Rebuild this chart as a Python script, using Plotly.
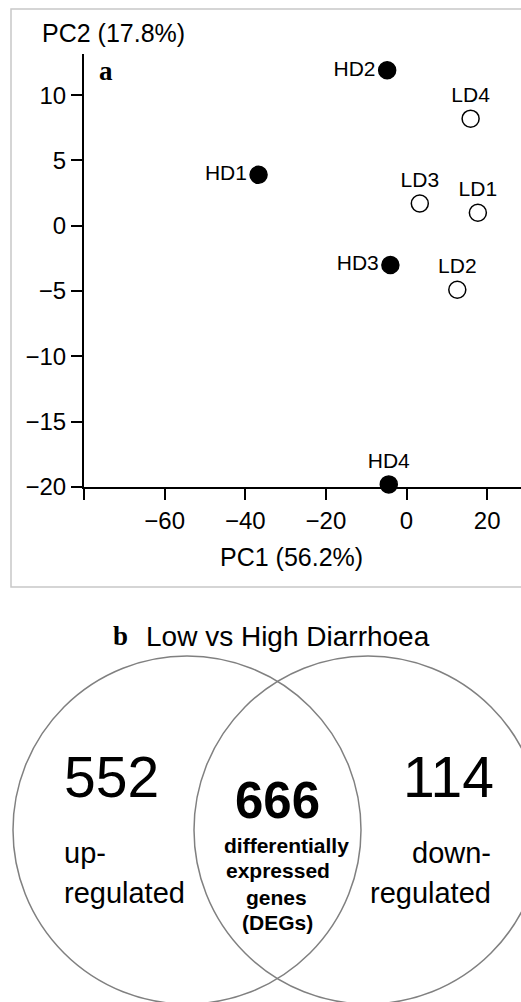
import plotly.graph_objects as go

W, H = 521, 1002

# ---------------- data ----------------
samples = ["HD1", "HD2", "HD3", "HD4", "LD1", "LD2", "LD3", "LD4"]
pc1 = [-36.7, -4.8, -4.0, -4.4, 17.7, 12.6, 3.3, 15.9]
pc2 = [3.9, 11.9, -3.0, -19.8, 1.0, -4.9, 1.7, 8.2]
group = ["HD", "HD", "HD", "HD", "LD", "LD", "LD", "LD"]
label_pos = ["middle left", "middle left", "middle left", "top center",
             "top center", "top center", "top center", "top center"]

x_ticks = [-80, -60, -40, -20, 0, 20]
x_ticktext = ["", "\u221260", "\u221240", "\u221220", "0", "20"]
y_ticks = [-20, -15, -10, -5, 0, 5, 10]

venn_counts = {"up": 552, "total": 666, "down": 114}

SANS = "Liberation Sans, Arial, sans-serif"
SERIF = "Liberation Serif, Times New Roman, serif"


def px(x):
    return x / W


def py(y):
    return 1 - y / H


fig = go.Figure()

for g, fill in [("HD", "black"), ("LD", "white")]:
    idx = [i for i, gg in enumerate(group) if gg == g]
    fig.add_trace(go.Scatter(
        x=[pc1[i] for i in idx], y=[pc2[i] for i in idx],
        text=[samples[i] for i in idx],
        textposition=[label_pos[i] for i in idx],
        mode="markers+text",
        marker=dict(size=17, color=fill, line=dict(color="black", width=1.5)),
        textfont=dict(family=SANS, size=21, color="black"),
        cliponaxis=False, showlegend=False, hoverinfo="skip",
        xaxis="x", yaxis="y",
    ))

# invisible trace for pixel-space axes (venn)
fig.add_trace(go.Scatter(x=[0], y=[0], mode="markers", marker=dict(opacity=0),
                         xaxis="x2", yaxis="y2", showlegend=False, hoverinfo="skip"))

axis_common = dict(showline=True, linecolor="black", linewidth=2, ticks="outside",
                   ticklen=11, tickwidth=2, tickcolor="black", showgrid=False,
                   zeroline=False, automargin=False,
                   tickfont=dict(family=SANS, size=24, color="black"))

fig.update_layout(
    template="none",
    width=W, height=H, autosize=False,
    margin=dict(l=0, r=0, t=0, b=0, pad=0, autoexpand=False),
    paper_bgcolor="white", plot_bgcolor="rgba(0,0,0,0)",
    xaxis=dict(domain=[px(84), 1], range=[-80, 28.4], tickvals=x_ticks,
               ticktext=x_ticktext, anchor="y", **axis_common),
    yaxis=dict(domain=[py(487), py(54)], range=[-20, 13.15], tickvals=y_ticks,
               anchor="x", **axis_common),
    xaxis2=dict(domain=[0, 1], range=[0, W], visible=False, anchor="y2",
                automargin=False),
    yaxis2=dict(domain=[0, 1], range=[H, 0], visible=False, anchor="x2",
                automargin=False),
)

shapes = []
# panel a border
shapes.append(dict(type="rect", xref="paper", yref="paper", x0=px(11), x1=px(530),
                   y0=py(587), y1=py(9), line=dict(color="#c8c8c8", width=1.5),
                   layer="below"))
# venn circles
for cx in (187, 368):
    shapes.append(dict(type="circle", xref="x2", yref="y2", x0=cx - 174, x1=cx + 174,
                       y0=656, y1=1004, line=dict(color="#808080", width=1.5)))
fig.update_layout(shapes=shapes)

ann = []


def add(text, x, y, size, family=SANS, xanchor="center", yanchor="middle", bold=False):
    t = f"<b>{text}</b>" if bold else text
    ann.append(dict(text=t, x=x, y=y, xref="x2", yref="y2", showarrow=False,
                    xanchor=xanchor, yanchor=yanchor,
                    font=dict(family=family, size=size, color="black")))


add("PC2 (17.8%)", 40, 33, 25, xanchor="left")
add("PC1 (56.2%)", 291.5, 557, 25)
add("a", 97, 71, 27, family=SERIF, xanchor="left", bold=True)

add("b", 111, 636, 27, family=SERIF, xanchor="left", bold=True)
add("Low vs High Diarrhoea", 144, 636, 28, xanchor="left")

add(str(venn_counts["up"]), 111, 777, 57)
add(str(venn_counts["down"]), 448, 777, 57)
add(str(venn_counts["total"]), 277, 800, 51, bold=True)

add("up-", 62, 853, 29, xanchor="left")
add("regulated", 62, 893, 29, xanchor="left")
add("down-", 493, 853, 29, xanchor="right")
add("regulated", 493, 893, 29, xanchor="right")

add("differentially", 286.5, 845, 21, bold=True)
add("expressed", 277.5, 870, 21, bold=True)
add("genes", 276.5, 897, 21, bold=True)
add("(DEGs)", 277.5, 922, 21, bold=True)

fig.update_layout(annotations=ann)

fig.write_html("out.html")
